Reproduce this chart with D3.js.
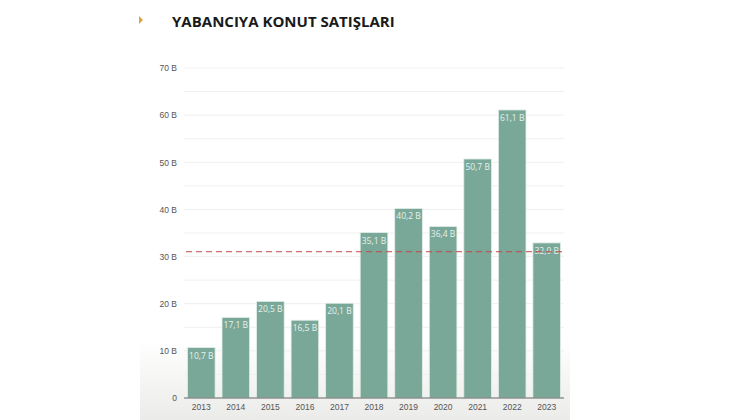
<!DOCTYPE html>
<html lang="tr">
<head>
    <meta charset="UTF-8">
    <title>Yabancıya Konut Satışları</title>
    <script src="https://d3js.org/d3.v7.min.js"></script>
    <style>
        body {
            margin: 0;
            background: #fff;
            font-family: "Open Sans", sans-serif;
        }
        .title {
            font-weight: bold;
            font-size: 15px;
            fill: #1a1a1a;
        }
        .tick text {
            fill: #555;
            font-size: 8.5px;
        }
        .value {
            fill: #e8f1ed;
            font-size: 8.5px;
        }
    </style>
</head>
<body>
    <div id="chart"></div>
    <script>
        var width = 730,
            height = 420;

        // data
        var years = ['2013', '2014', '2015', '2016', '2017', '2018', '2019', '2020', '2021', '2022', '2023'];
        var sales = [10.7, 17.1, 20.5, 16.5, 20.1, 35.1, 40.2, 36.4, 50.7, 61.1, 32.9];
        var yTicks = [0, 10, 20, 30, 40, 50, 60, 70];

        var margin = { left: 184, right: 166, top: 68, bottom: 22 };

        var svg = d3.select("#chart").append("svg")
            .attr("width", width)
            .attr("height", height);

        // faint background at the bottom of the panel
        var defs = svg.append("defs");
        var grad = defs.append("linearGradient")
            .attr("id", "bg").attr("x1", 0).attr("y1", 0).attr("x2", 0).attr("y2", 1);
        grad.append("stop").attr("offset", "0%").attr("stop-color", "#fff");
        grad.append("stop").attr("offset", "100%").attr("stop-color", "#ebebe9");
        svg.append("rect")
            .attr("x", 140).attr("y", 340)
            .attr("width", 430).attr("height", 80)
            .attr("fill", "url(#bg)");

        // title
        svg.append("path")
            .attr("d", "M139,16 L143,20 L139,24 Z")
            .attr("fill", "#d9a441");
        svg.append("text")
            .attr("class", "title")
            .attr("x", 172)
            .attr("y", 27)
            .text("YABANCIYA KONUT SATIŞLARI");

        var x = d3.scaleBand()
            .domain(years)
            .range([margin.left, width - margin.right])
            .paddingInner(0.2)
            .paddingOuter(0.1);

        var y = d3.scaleLinear()
            .domain([0, 70])
            .range([height - margin.bottom, margin.top]);

        // gridlines every 5
        svg.append("g")
            .selectAll("line")
            .data(d3.range(5, 75, 5))
            .enter().append("line")
            .attr("x1", margin.left)
            .attr("x2", width - margin.right)
            .attr("y1", function(d) { return y(d); })
            .attr("y2", function(d) { return y(d); })
            .attr("stroke", "#efefef")
            .attr("stroke-width", 1);

        // y axis
        var yAxis = svg.append("g")
            .attr("transform", "translate(" + margin.left + ",0)")
            .call(d3.axisLeft(y)
                .tickValues(yTicks)
                .tickSize(0)
                .tickPadding(7)
                .tickFormat(function(d) { return d === 0 ? "0" : d + " B"; }));
        yAxis.select(".domain").remove();

        // bars
        svg.append("g")
            .selectAll("rect")
            .data(sales)
            .enter().append("rect")
            .attr("x", function(d, i) { return x(years[i]); })
            .attr("y", function(d) { return y(d); })
            .attr("width", x.bandwidth())
            .attr("height", function(d) { return y(0) - y(d); })
            .attr("fill", "#79a898")
            .attr("stroke", "#e3eee9")
            .attr("stroke-width", 0.8);

        // value labels
        svg.append("g")
            .selectAll("text")
            .data(sales)
            .enter().append("text")
            .attr("class", "value")
            .attr("x", function(d, i) { return x(years[i]) + x.bandwidth() / 2; })
            .attr("y", function(d) { return y(d) + 11; })
            .attr("text-anchor", "middle")
            .text(function(d) { return d3.format(".1f")(d).replace(".", ",") + " B"; });

        // average line
        var avg = d3.mean(sales);
        svg.append("line")
            .attr("x1", margin.left + 2)
            .attr("x2", width - margin.right)
            .attr("y1", y(avg))
            .attr("y2", y(avg))
            .attr("stroke", "#c4484a")
            .attr("stroke-width", 1)
            .attr("stroke-dasharray", "6,4");

        // x axis
        var xAxis = svg.append("g")
            .attr("transform", "translate(0," + y(0) + ")")
            .call(d3.axisBottom(x).tickSize(0).tickPadding(6));
        xAxis.select(".domain")
            .attr("stroke", "#666")
            .attr("d", "M" + margin.left + ",0H" + (width - margin.right));
    </script>
</body>
</html>
